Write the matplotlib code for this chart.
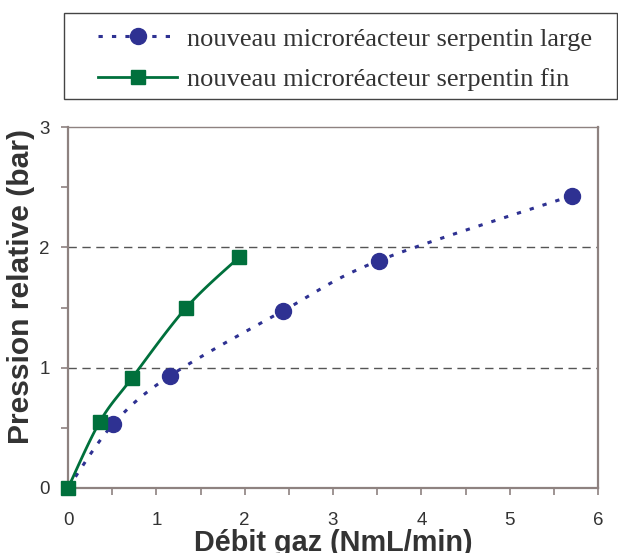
import numpy as np
import matplotlib.pyplot as plt
from matplotlib.lines import Line2D
from matplotlib.patches import Rectangle

# data
large_x = [0, 0.51, 1.15, 2.43, 3.52, 5.71]
large_y = [0, 0.53, 0.93, 1.47, 1.89, 2.43]
fin_x = [0, 0.36, 0.72, 1.34, 1.94]
fin_y = [0, 0.55, 0.91, 1.50, 1.92]
labels = ['nouveau microréacteur serpentin large',
          'nouveau microréacteur serpentin fin']


def smooth(xs, ys, n=30):
    # excel-like smoothed line: bezier segments with catmull-rom control points
    p = np.column_stack([xs, ys]).astype(float)
    p = np.vstack([p[0], p, p[-1]])
    out = []
    t = np.linspace(0, 1, n)[:, None]
    for i in range(1, len(p) - 2):
        p0, p1, p2, p3 = p[i - 1], p[i], p[i + 1], p[i + 2]
        c1 = p1 + (p2 - p0) / 6
        c2 = p2 - (p3 - p1) / 6
        seg = ((1 - t) ** 3) * p1 + 3 * ((1 - t) ** 2) * t * c1 + 3 * (1 - t) * t ** 2 * c2 + t ** 3 * p2
        out.append(seg)
    out = np.vstack(out)
    return out[:, 0], out[:, 1]


blue = '#2e3192'
green = '#00703c'
frame = '#8e8280'
txt = '#333333'
W, H = 618, 553

fig = plt.figure(figsize=(6.18, 5.53), dpi=100)
ax = fig.add_axes([68 / W, 1 - 488 / H, 530 / W, 361 / H])

for y in [1, 2]:
    ax.axhline(y, color='#555555', lw=1, linestyle=(0, (6, 4)), zorder=1)

sx, sy = smooth(large_x, large_y)
ax.plot(sx, sy, color=blue, lw=2.2, linestyle=(0, (1.4, 3)), zorder=2)
ax.plot(large_x[1:], large_y[1:], 'o', color=blue, ms=11.5, zorder=3)

sx, sy = smooth(fin_x, fin_y)
ax.plot(sx, sy, color=green, lw=2, zorder=4)
ax.plot(fin_x, fin_y, 's', color=green, ms=10.5, zorder=5, clip_on=False)

ax.set_xlim(0, 6)
ax.set_ylim(0, 3)
ax.set_xticks(range(7))
ax.set_xticks(np.arange(0, 6.01, 0.5), minor=True)
ax.set_yticks(range(4))
ax.set_yticks(np.arange(0, 3.01, 0.5), minor=True)
ax.tick_params(which='both', direction='out', color=frame, width=1.2, length=5,
               labelcolor=txt, labelsize=13.5)
ax.tick_params(axis='y', pad=8)
ax.tick_params(axis='x', pad=12)
for lab in ax.get_xticklabels() + ax.get_yticklabels():
    lab.set_family('Liberation Sans')
for s in ax.spines.values():
    s.set_color(frame)
    s.set_linewidth(1.6)
ax.spines['top'].set_linewidth(1.0)

ax.set_xlabel('Débit gaz (NmL/min)', family='Liberation Sans', fontweight='bold',
              fontsize=20.8, color=txt, labelpad=0)
ax.set_ylabel('Pression relative (bar)', family='Liberation Sans', fontweight='bold',
              fontsize=21.6, color=txt)
ax.yaxis.set_label_coords(-0.0623, 0.557)

# legend box, drawn separately so its padding can match
fig.patches.append(Rectangle((64 / W, 1 - 99 / H), 553 / W, 86 / H,
                             transform=fig.transFigure, fill=False,
                             edgecolor='#444444', lw=1.0))
handles = [
    Line2D([], [], color=blue, lw=2.2, linestyle=(0, (1.4, 3)), marker='o', ms=11.5),
    Line2D([], [], color=green, lw=2, marker='s', ms=10.5),
]
leg = fig.legend(handles, labels, loc='center left',
                 bbox_to_anchor=(98 / W, 1 - 59 / H),
                 prop={'family': 'Liberation Serif', 'size': 19},
                 frameon=False, borderpad=0, labelspacing=0.64,
                 handlelength=3.0, handletextpad=0.38, borderaxespad=0)
for t in leg.get_texts():
    t.set_color(txt)

fig.savefig('out.png', dpi=100)
